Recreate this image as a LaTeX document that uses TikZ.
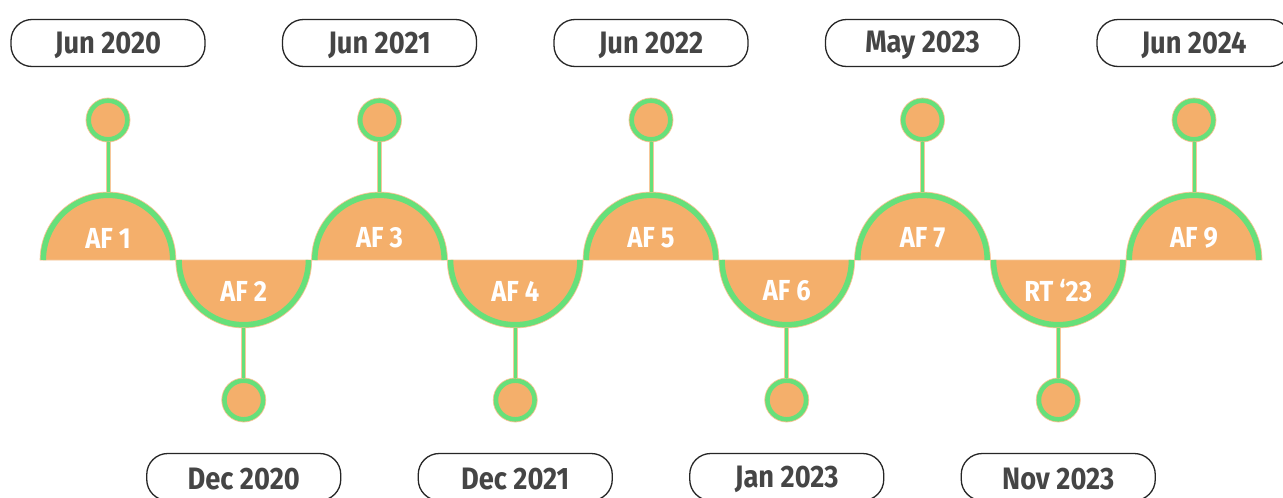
\documentclass[tikz,border=0pt]{standalone}
\usepackage{fontspec}
\newfontfamily\labfont[FakeStretch=0.88]{Fira Sans}
\definecolor{orng}{HTML}{F4AF6B}
\definecolor{orlt}{HTML}{F6C79A}
\definecolor{grn}{HTML}{66E07A}
\definecolor{txtgray}{HTML}{454545}
\begin{document}
\begin{tikzpicture}[x=1pt,y=-1pt,
  datebox/.style={draw=black!85,line width=1.3pt,rounded corners=21pt,minimum width=194pt,minimum height=47pt,inner sep=0pt,text=txtgray,font=\labfont\bfseries\fontsize{31}{32}\selectfont},
  aflabel/.style={text=white,inner sep=0pt,font=\labfont\bfseries\fontsize{29}{30}\selectfont},
  dotnode/.style={circle,minimum size=44pt,inner sep=0pt,fill=orng,draw=orlt,line width=0.8pt},
  ring/.style={grn,line width=4.5pt},
  stemline/.style={orlt,line width=5pt},
  stemcore/.style={grn,line width=3pt}]
\useasboundingbox (0,0) rectangle (1283,498);
\fill[white] (0,0) rectangle (1283,498);
\def\R{67.9}
\def\by{260}
\foreach \i/\t/\d in {1/AF 1/Jun 2020,3/AF 3/Jun 2021,5/AF 5/Jun 2022,7/AF 7/May 2023,9/AF 9/Jun 2024}{
  \pgfmathsetmacro\cx{108+135.75*(\i-1)}
  \fill[orng] (\cx-\R,\by) arc[start angle=180,end angle=360,radius=\R] -- cycle;
  \draw[orlt,line width=0.8pt] (\cx-\R,\by) arc[start angle=180,end angle=360,radius=\R] -- cycle;
  \draw[grn,line width=5.5pt] (\cx-\R+3.2,\by) arc[start angle=180,end angle=360,radius=\R-3.2];
  \coordinate (top\i) at (\cx,\by-\R);
  \node[aflabel] (a\i) at (\cx,238) {\t};
  \node[dotnode] (d\i) at (\cx,120) {};
  \draw[stemline] (d\i.south) -- (top\i);
  \draw[stemcore] (d\i.south) -- (top\i);
  \draw[ring] (d\i.center) circle[radius=19.3pt];
  \node[datebox] (l\i) at (\cx,43) {};
  \node[text=txtgray,inner sep=0pt,font=\labfont\bfseries\fontsize{31}{32}\selectfont] at (\cx,45) {\d};
}
\foreach \i/\t/\d in {2/AF 2/Dec 2020,4/AF 4/Dec 2021,6/AF 6/Jan 2023,8/RT ‘23/Nov 2023}{
  \pgfmathsetmacro\cx{108+135.75*(\i-1)}
  \fill[orng] (\cx-\R,\by) arc[start angle=180,end angle=0,radius=\R] -- cycle;
  \draw[orlt,line width=0.8pt] (\cx-\R,\by) arc[start angle=180,end angle=0,radius=\R] -- cycle;
  \draw[grn,line width=5.5pt] (\cx-\R+3.2,\by) arc[start angle=180,end angle=0,radius=\R-3.2];
  \coordinate (bot\i) at (\cx,\by+\R);
  \node[aflabel] (a\i) at (\cx,291) {\t};
  \node[dotnode] (d\i) at (\cx,400) {};
  \draw[stemline] (d\i.north) -- (bot\i);
  \draw[stemcore] (d\i.north) -- (bot\i);
  \draw[ring] (d\i.center) circle[radius=19.3pt];
  \node[datebox] (l\i) at (\cx,477) {};
  \node[text=txtgray,inner sep=0pt,font=\labfont\bfseries\fontsize{31}{32}\selectfont] at (\cx,479) {\d};
}
\end{tikzpicture}
\end{document}
